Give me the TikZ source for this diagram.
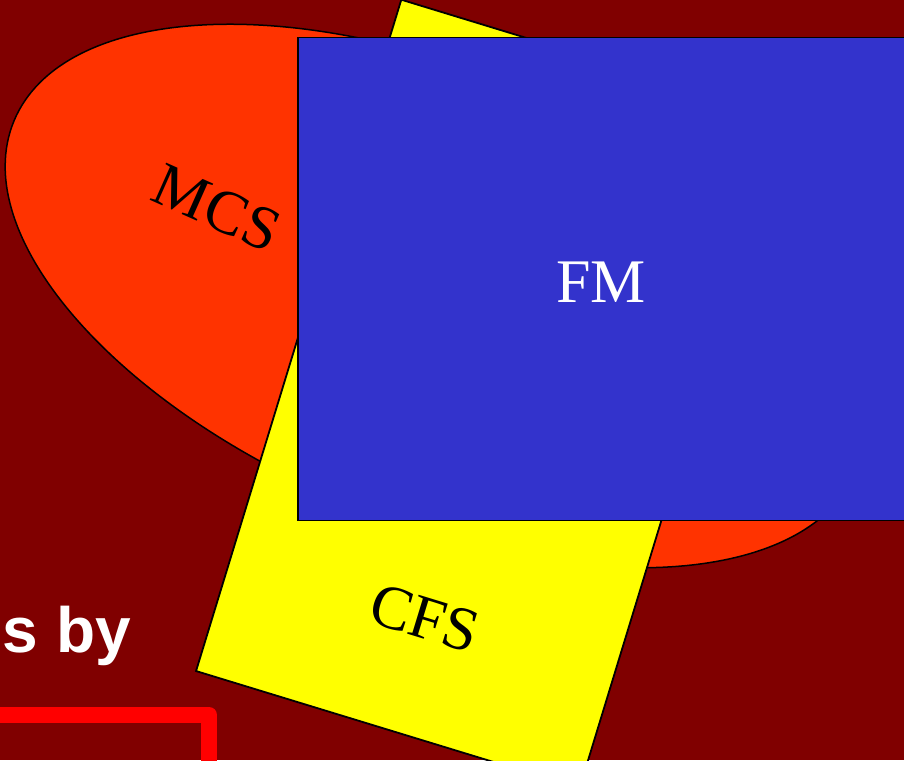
\documentclass[tikz,border=0pt]{standalone}
\usepackage{fontspec}
\setmainfont{Liberation Serif}
\newfontfamily\bysans{Liberation Sans}
\usetikzlibrary{shapes.geometric}

\definecolor{bgmaroon}{HTML}{800000}
\definecolor{mcsred}{HTML}{FF3300}
\definecolor{cfsyellow}{HTML}{FFFF00}
\definecolor{fmblue}{HTML}{3333CC}
\definecolor{framered}{HTML}{FF0000}

\tikzset{
    setshape/.style={draw=black, line width=1.5pt},
    setlabel/.style={font=\fontsize{62}{62}\selectfont, inner sep=0pt}
}

\begin{document}
\begin{tikzpicture}[x=1pt,y=1pt]
    % Background
    \useasboundingbox (0,0) rectangle (904,760);
    \clip (0,0) rectangle (904,760);
    \fill[bgmaroon] (0,0) rectangle (904,760);

    % Sets
    \node[setshape, ellipse, fill=mcsred, minimum width=912, minimum height=450, rotate=-22.6] (mcs) at (435,464) {};
    \node[setshape, rectangle, fill=cfsyellow, line width=1.8pt, minimum width=401, minimum height=702, rotate=-17] (cfs) at (490.4,366) {};
    \node[setshape, rectangle, fill=fmblue, minimum width=620, minimum height=483, anchor=north west] (fm) at (297,723) {};

    % Labels
    \node[setlabel, rotate=-24] (mcslabel) at (217,552) {MCS};
    \node[setlabel, rotate=-17] (cfslabel) at (425,142) {CFS};
    \node[setlabel, text=white] (fmlabel) at (601,478) {FM};

    % Slide text
    \node[anchor=base east, inner sep=0pt, text=white, font=\bysans\bfseries\fontsize{64}{64}\selectfont] (byline) at (131,107) {s by};
    \draw[framered, line width=16pt, line join=round] (-100,-100) rectangle (209,45);
\end{tikzpicture}
\end{document}
